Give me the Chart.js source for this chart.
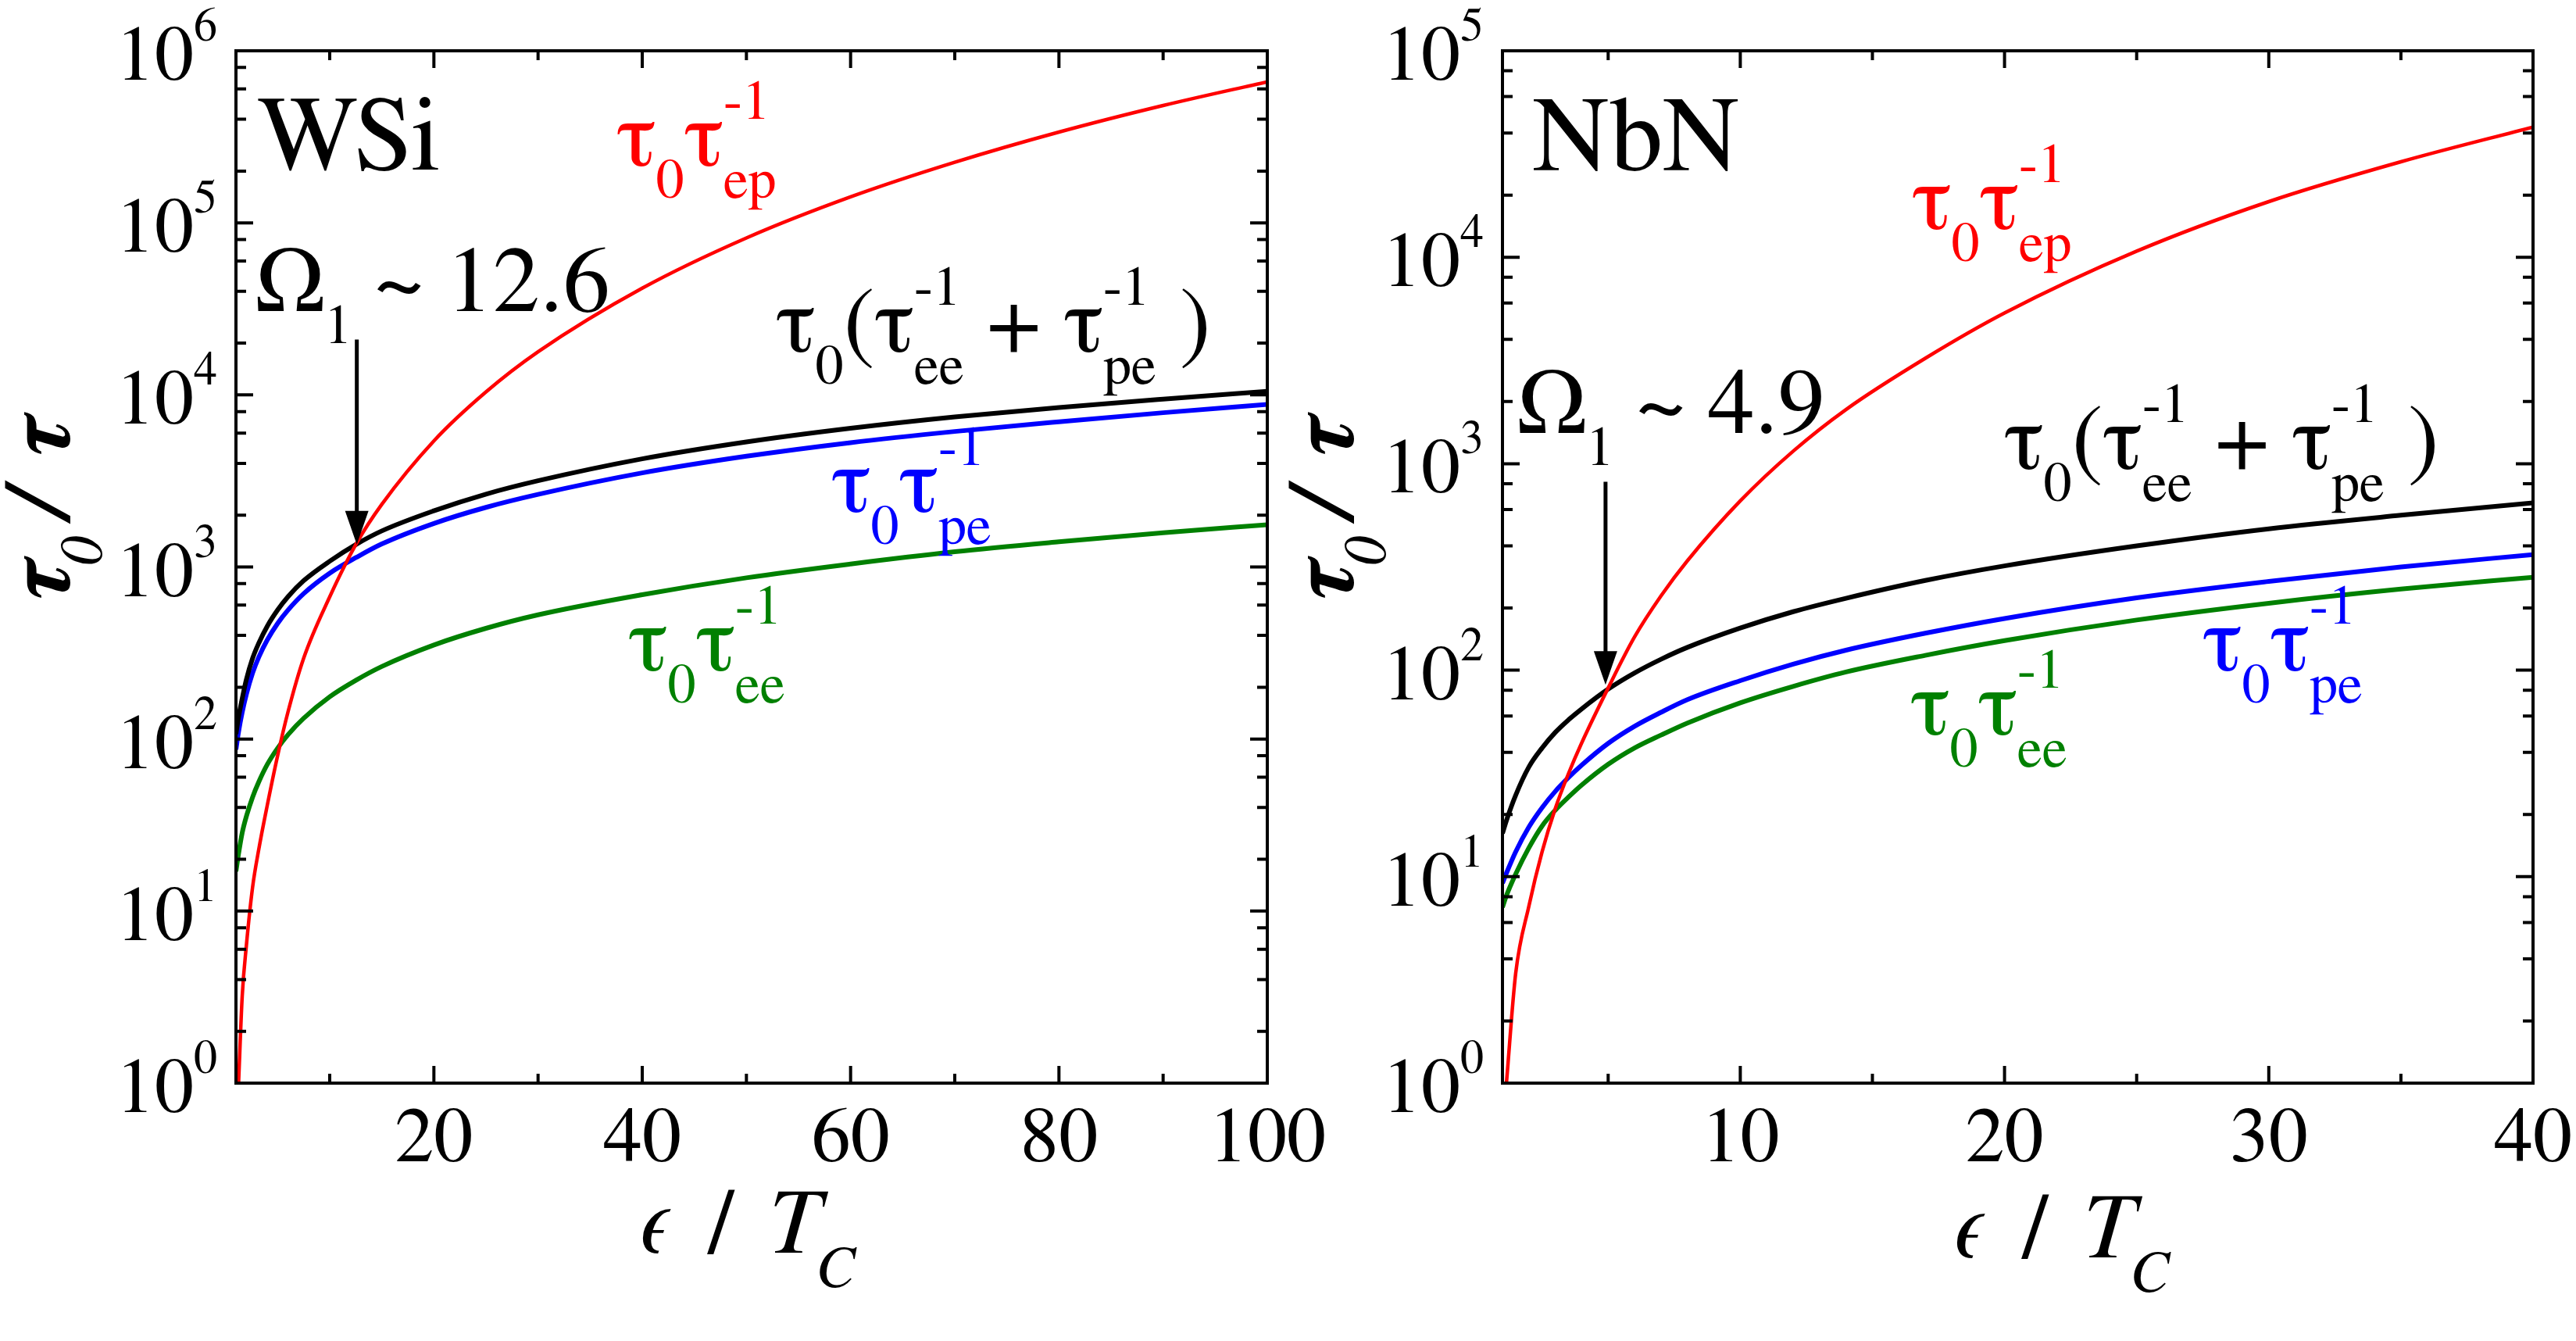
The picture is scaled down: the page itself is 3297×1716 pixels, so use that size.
<!DOCTYPE html>
<html>
<head>
<meta charset="utf-8">
<script src="https://cdn.jsdelivr.net/npm/chart.js@4.4.0/dist/chart.umd.min.js"></script>
<style>
html, body { margin: 0; padding: 0; background: #fff; }
body { width: 3297px; height: 1716px; position: relative; overflow: hidden; }
canvas { position: absolute; top: 0; }
#wsiChart { left: 0; }
#nbnChart { left: 1640px; }
</style>
</head>
<body>
<canvas id="wsiChart" width="1760" height="1716"></canvas>
<canvas id="nbnChart" width="1657" height="1716"></canvas>
<script>
// --- WSi panel ---
const wsiEnergy = [1, 1.25, 1.6, 2, 2.6, 3.2, 4, 5, 6, 7.5, 10, 12.6, 15, 20, 25, 30, 40, 50, 60, 70, 80, 90, 100];
const wsiEp  = [null, 1.0, 3.2, 6.3, 13.8, 23, 41, 80, 144, 295, 670, 1380, 2310, 5400, 10400, 17800, 41700, 81700, 141600, 225000, 337000, 481000, 661000];
const wsiSum = [107, 134, 172, 222, 295, 362, 452, 562, 672, 832, 1080, 1360, 1620, 2120, 2650, 3170, 4250, 5330, 6400, 7450, 8450, 9450, 10500];
const wsiPe  = [87, 110, 143, 182, 242, 300, 376, 470, 562, 700, 920, 1140, 1360, 1790, 2220, 2640, 3520, 4400, 5280, 6130, 6980, 7880, 8810];
const wsiEe  = [17, 21.5, 28.5, 35.5, 46, 56.5, 71, 88.5, 106, 132, 176, 221, 264, 352, 440, 527, 690, 865, 1040, 1225, 1400, 1580, 1760];
const wsiXTicks = [20, 40, 60, 80, 100];
const wsiXMinor = [10, 30, 50, 70, 90];
const wsiYTicks = [1, 10, 100, 1e3, 1e4, 1e5, 1e6];

// --- NbN panel ---
const nbnEnergy = [1, 1.15, 1.5, 2, 2.5, 3, 3.5, 4, 5, 6, 7, 8, 10, 12, 14, 17, 20, 25, 30, 35, 40];
const nbnEp  = [null, 1.0, 3.4, 7.2, 13.2, 21.4, 31.6, 44.5, 82, 145, 229, 339, 661, 1150, 1830, 3240, 5370, 10700, 18600, 29000, 42700];
const nbnSum = [16.2, 18.7, 24.8, 34, 42, 50, 57.5, 65, 81, 97, 113, 129, 160, 192, 223, 272, 320, 400, 484, 563, 646];
const nbnPe  = [9.3, 10.4, 13.2, 17.4, 21.6, 25.9, 30.2, 34.7, 44.2, 53.5, 62.5, 72, 89, 107, 125, 151, 178, 224, 269, 316, 363];
const nbnEe  = [7.1, 8.1, 10.3, 13.8, 17.6, 21, 24.3, 27.8, 35, 42, 48.5, 55.5, 69.5, 83.5, 98, 118, 139, 175, 211, 247, 282];
const nbnXTicks = [10, 20, 30, 40];
const nbnXMinor = [5, 15, 25, 35];
const nbnYTicks = [1, 10, 100, 1e3, 1e4, 1e5];

// font choice: a family counts as installed when it measures differently from a made-up name
const probeCtx = document.createElement('canvas').getContext('2d');
function widthIn(family, text) {
    probeCtx.font = '100px ' + family;
    return probeCtx.measureText(text).width;
}
const PROBE = 'WSi NbN 0123456789 (+)';
const missingWidth = widthIn('"Qzxw Missing Face"', PROBE);
const serifList = ['Liberation Serif', 'Tinos', 'Times New Roman', 'Nimbus Roman', 'FreeSerif', 'Noto Serif', 'DejaVu Serif'];
const serifPick = serifList.find(f => Math.abs(widthIn('"' + f + '"', PROBE) - missingWidth) > 0.5);
const SERIF = serifPick ? '"' + serifPick + '", serif' : 'serif';
// squeeze wider faces to Times digit width (10 digits = 5 em)
const FX = Math.min(1, 500 / widthIn(SERIF, '0123456789'));
const MAIN_FONT = '120px ' + SERIF;
const SMALL_FONT = '72px ' + SERIF;

function points(xs, ys) {
    return xs.map((x, i) => ({ x: x, y: ys[i] }));
}

// text drawn with the horizontal squeeze, returns advance
function putText(ctx, text, x, y) {
    ctx.save();
    ctx.translate(x, y);
    ctx.scale(FX, 1);
    ctx.fillText(text, 0, 0);
    ctx.restore();
    return ctx.measureText(text).width * FX;
}

// text with stacked super/subscripts, e.g. ['τ', {sub:'0'}, 'τ', {sup:'-1', sub:'ep'}]
function drawRich(ctx, x, y, parts, color) {
    ctx.fillStyle = color;
    ctx.textAlign = 'left';
    ctx.textBaseline = 'alphabetic';
    parts.forEach(p => {
        if (typeof p === 'string') {
            ctx.font = MAIN_FONT;
            x += putText(ctx, p, x, y);
        } else {
            ctx.font = SMALL_FONT;
            let w = 0;
            if (p.sup) w = Math.max(w, putText(ctx, p.sup, x, y - 60));
            if (p.sub) w = Math.max(w, putText(ctx, p.sub, x, y + 41));
            x += w;
        }
    });
}

function drawArrow(ctx, x, yTop, yTip) {
    ctx.strokeStyle = '#000';
    ctx.fillStyle = '#000';
    ctx.lineWidth = 5;
    ctx.beginPath();
    ctx.moveTo(x, yTop);
    ctx.lineTo(x, yTip - 38);
    ctx.stroke();
    ctx.beginPath();
    ctx.moveTo(x - 15, yTip - 43);
    ctx.lineTo(x + 15, yTip - 43);
    ctx.lineTo(x, yTip);
    ctx.closePath();
    ctx.fill();
}

function panelPlugin(cfg) {
    return {
        id: 'panel',
        afterDatasetsDraw(chart) {
            const ctx = chart.ctx;
            const a = chart.chartArea;
            const xs = chart.scales.x, ys = chart.scales.y;
            ctx.save();
            ctx.strokeStyle = '#000';
            ctx.lineWidth = 4;
            ctx.strokeRect(a.left, a.top, a.right - a.left, a.bottom - a.top);

            // inward ticks on all four sides
            const xTick = (v, len) => {
                const px = xs.getPixelForValue(v);
                ctx.beginPath();
                ctx.moveTo(px, a.bottom); ctx.lineTo(px, a.bottom - len);
                ctx.moveTo(px, a.top); ctx.lineTo(px, a.top + len);
                ctx.stroke();
            };
            const yTick = (v, len) => {
                const py = ys.getPixelForValue(v);
                ctx.beginPath();
                ctx.moveTo(a.left, py); ctx.lineTo(a.left + len, py);
                ctx.moveTo(a.right, py); ctx.lineTo(a.right - len, py);
                ctx.stroke();
            };
            xs.ticks.forEach(t => xTick(t.value, 22));
            cfg.xMinor.forEach(v => xTick(v, 12));
            ys.ticks.forEach((t, i) => {
                yTick(t.value, 22);
                if (i < ys.ticks.length - 1) [2, 4, 6, 8].forEach(m => yTick(t.value * m, 13));
            });
            ctx.restore();
        },
        afterDraw(chart) {
            const ctx = chart.ctx;
            const a = chart.chartArea;
            const xs = chart.scales.x, ys = chart.scales.y;
            ctx.save();
            ctx.fillStyle = '#000';
            ctx.textBaseline = 'alphabetic';

            // x tick labels
            ctx.font = '100px ' + SERIF;
            ctx.textAlign = 'center';
            xs.ticks.forEach(t => {
                putText(ctx, String(t.value), xs.getPixelForValue(t.value), a.bottom + 100);
            });

            // y tick labels 10^n
            ctx.textAlign = 'left';
            ys.ticks.forEach(t => {
                const py = ys.getPixelForValue(t.value);
                const exp = String(Math.round(Math.log10(t.value)));
                ctx.font = '100px ' + SERIF;
                const w10 = ctx.measureText('10').width * FX;
                ctx.font = '60px ' + SERIF;
                const wE = ctx.measureText(exp).width * FX;
                const x0 = a.left - 24 - wE - w10;
                ctx.font = '100px ' + SERIF;
                putText(ctx, '10', x0, py + 37);
                ctx.font = '60px ' + SERIF;
                putText(ctx, exp, x0 + w10, py - 13);
            });

            // x axis title
            const xt = cfg.xTitle;
            ctx.font = 'italic 120px ' + SERIF;
            putText(ctx, '\u03F5', xt.x, xt.y);
            ctx.font = '120px ' + SERIF;
            putText(ctx, '/', xt.x + 85, xt.y);
            ctx.font = 'italic 120px ' + SERIF;
            putText(ctx, 'T', xt.x + 160, xt.y);
            ctx.font = 'italic 76px ' + SERIF;
            putText(ctx, 'C', xt.x + 226, xt.y + 44);

            // y axis title, rotated
            const yt = cfg.yTitle;
            ctx.save();
            ctx.translate(yt.x, yt.y);
            ctx.rotate(-Math.PI / 2);
            ctx.font = 'bold italic 118px ' + SERIF;
            putText(ctx, '\u03C4', 0, 0);
            ctx.font = 'italic 76px ' + SERIF;
            putText(ctx, '0', 46, 42);
            ctx.font = 'bold italic 118px ' + SERIF;
            putText(ctx, '/', 100, 0);
            putText(ctx, '\u03C4', 184, 0);
            ctx.restore();

            // panel name
            ctx.font = '136px ' + SERIF;
            putText(ctx, cfg.name, a.left + cfg.namePos[0], a.top + cfg.namePos[1]);

            // curve labels
            cfg.labels.forEach(l => drawRich(ctx, a.left + l.pos[0], a.top + l.pos[1], l.parts, l.color));

            // crossing arrow
            const ar = cfg.arrow;
            drawArrow(ctx, xs.getPixelForValue(ar.x), ys.getPixelForValue(ar.from), ys.getPixelForValue(ar.to));
            ctx.restore();
        }
    };
}

function makeChart(id, cfg) {
    const line = (data, color, width) => ({
        data: data,
        borderColor: color,
        borderWidth: width,
        pointRadius: 0,
        fill: false,
        cubicInterpolationMode: 'monotone',
        spanGaps: false
    });
    return new Chart(document.getElementById(id), {
        type: 'line',
        data: {
            datasets: [
                line(points(cfg.energy, cfg.ep), '#ff0000', 4.5),
                line(points(cfg.energy, cfg.sum), '#000000', 6),
                line(points(cfg.energy, cfg.pe), '#0000ff', 6),
                line(points(cfg.energy, cfg.ee), '#008000', 6)
            ]
        },
        options: {
            responsive: false,
            animation: false,
            devicePixelRatio: 1,
            layout: { padding: cfg.padding },
            plugins: { legend: { display: false }, tooltip: { enabled: false } },
            scales: {
                x: {
                    type: 'linear', min: 1, max: cfg.xMax,
                    grid: { display: false, drawTicks: false },
                    border: { display: false },
                    ticks: { display: false },
                    afterBuildTicks: s => { s.ticks = cfg.xTicks.map(v => ({ value: v })); },
                    afterFit: s => { s.height = 0; }
                },
                y: {
                    type: 'logarithmic', min: 1, max: cfg.yMax,
                    grid: { display: false, drawTicks: false },
                    border: { display: false },
                    ticks: { display: false },
                    afterBuildTicks: s => { s.ticks = cfg.yTicks.map(v => ({ value: v })); },
                    afterFit: s => { s.width = 0; }
                }
            }
        },
        plugins: [panelPlugin(cfg)]
    });
}

makeChart('wsiChart', {
    energy: wsiEnergy, ep: wsiEp, sum: wsiSum, pe: wsiPe, ee: wsiEe,
    xMax: 100, yMax: 1e6,
    xTicks: wsiXTicks, xMinor: wsiXMinor, yTicks: wsiYTicks,
    padding: { left: 302, right: 138, top: 65, bottom: 330 },
    name: 'WSi', namePos: [27, 152],
    xTitle: { x: 820, y: 1603 },
    yTitle: { x: 88, y: 770 },
    arrow: { x: 12.6, from: 21000, to: 1350 },
    labels: [
        { pos: [487, 147], color: '#ff0000', parts: ['\u03C4', { sub: '0' }, '\u03C4', { sup: '-1', sub: 'ep' }] },
        { pos: [26, 333], color: '#000000', parts: ['\u03A9', { sub: '1' }, ' ~ 12.6'] },
        { pos: [691, 385], color: '#000000', parts: ['\u03C4', { sub: '0' }, '(', '\u03C4', { sup: '-1', sub: 'ee' }, ' + ', '\u03C4', { sup: '-1', sub: 'pe' }, ' )'] },
        { pos: [762, 590], color: '#0000ff', parts: ['\u03C4', { sub: '0' }, '\u03C4', { sup: '-1', sub: 'pe' }] },
        { pos: [502, 793], color: '#008000', parts: ['\u03C4', { sub: '0' }, '\u03C4', { sup: '-1', sub: 'ee' }] }
    ]
});

makeChart('nbnChart', {
    energy: nbnEnergy, ep: nbnEp, sum: nbnSum, pe: nbnPe, ee: nbnEe,
    xMax: 40, yMax: 1e5,
    xTicks: nbnXTicks, xMinor: nbnXMinor, yTicks: nbnYTicks,
    padding: { left: 283, right: 55, top: 65, bottom: 330 },
    name: 'NbN', namePos: [38, 153],
    xTitle: { x: 862, y: 1609 },
    yTitle: { x: 91, y: 770 },
    arrow: { x: 4.9, from: 818, to: 85 },
    labels: [
        { pos: [524, 228], color: '#ff0000', parts: ['\u03C4', { sub: '0' }, '\u03C4', { sup: '-1', sub: 'ep' }] },
        { pos: [20, 489], color: '#000000', parts: ['\u03A9', { sub: '1' }, ' ~ 4.9'] },
        { pos: [642, 535], color: '#000000', parts: ['\u03C4', { sub: '0' }, '(', '\u03C4', { sup: '-1', sub: 'ee' }, ' + ', '\u03C4', { sup: '-1', sub: 'pe' }, ' )'] },
        { pos: [896, 793], color: '#0000ff', parts: ['\u03C4', { sub: '0' }, '\u03C4', { sup: '-1', sub: 'pe' }] },
        { pos: [522, 875], color: '#008000', parts: ['\u03C4', { sub: '0' }, '\u03C4', { sup: '-1', sub: 'ee' }] }
    ]
});
</script>
</body>
</html>
